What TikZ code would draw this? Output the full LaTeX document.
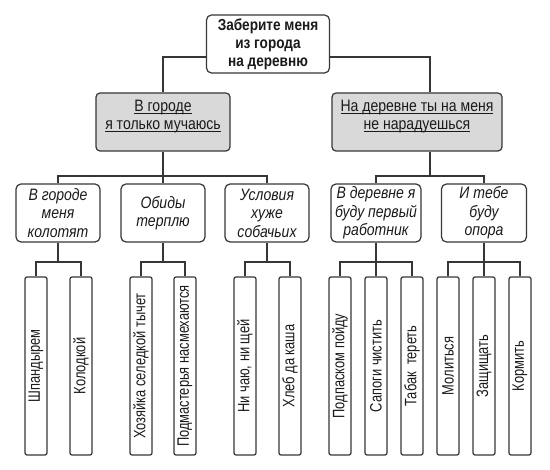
\documentclass[tikz,border=0pt]{standalone}
\usepackage{fontspec}
\setmainfont{Liberation Sans}[FakeStretch=0.85]
\newfontfamily\narrowfont{Liberation Sans}[FakeStretch=0.78]
\usepackage{graphicx}
\usepackage{tikz}
\usetikzlibrary{positioning}
\definecolor{edge}{HTML}{363636}
\definecolor{shade}{HTML}{D9D9D9}
\definecolor{ink}{HTML}{1A1A1A}
\newcommand\uline[1]{\underline{\smash{#1}}}
\tikzset{
  box/.style={draw=edge, line width=1.2pt, rounded corners=5pt, align=center, text=ink,
    inner sep=2pt, minimum height=58pt, font=\fontsize{16.5}{18}\selectfont},
  rootbox/.style={box, minimum width=123pt, font=\bfseries\fontsize{16}{18}\selectfont},
  halfbox/.style={box, fill=shade, rounded corners=4pt},
  idea/.style={box, minimum width=84pt, font=\itshape\fontsize{16.5}{18.5}\selectfont},
  leaf/.style={draw=edge, line width=1.2pt, rounded corners=2pt, text=ink, inner sep=0pt,
    minimum width=22pt, minimum height=178pt, font=\narrowfont\fontsize{16.5}{18}\selectfont},
  link/.style={draw=edge, line width=1.2pt}
}
\begin{document}
\begin{tikzpicture}[x=1pt, y=1pt]
  \useasboundingbox (0,0) rectangle (550,-470);

  \node[rootbox] (root) at (268,-44) {Заберите меня\\из города\\на деревню};

  \node[halfbox, minimum width=134pt] (city) at (163,-122)
    {\uline{В городе}\\\uline{я только мучаюсь}};
  \node[halfbox, minimum width=170pt] (village) at (417,-122)
    {\uline{На деревне ты на меня}\\\uline{не нарадуешься}};

  \node[idea] (beaten)  at (58,-213)  {В городе\\меня\\колотят};
  \node[idea] (insult)  at (163,-213) {Обиды\\терплю};
  \node[idea] (dogs)    at (267,-213) {Условия\\хуже\\собачьих};
  \node[idea, minimum width=90pt] (worker) at (376,-213) {В деревне я\\буду первый\\работник};
  \node[idea, minimum width=85pt] (support) at (484,-213) {И тебе\\буду\\опора};

  \node[leaf] (shpan)    at (36,-366)  {\rotatebox{90}{Шпандырем}};
  \node[leaf] (koloda)   at (81,-366)  {\rotatebox{90}{Колодкой}};
  \node[leaf] (selyodka) at (141,-366) {\rotatebox{90}{Хозяйка селедкой тычет}};
  \node[leaf] (podmast)  at (185,-366) {\rotatebox{90}{Подмастерья насмехаются}};
  \node[leaf] (chai)     at (245,-366) {\rotatebox{90}{Ни чаю, ни щей}};
  \node[leaf] (khleb)    at (290,-366) {\rotatebox{90}{Хлеб да каша}};
  \node[leaf] (podpask)  at (340,-366) {\rotatebox{90}{Подпаском пойду}};
  \node[leaf] (sapogi)   at (376,-366) {\rotatebox{90}{Сапоги чистить}};
  \node[leaf] (tabak)    at (412,-366) {\rotatebox{90}{Табак\ \ тереть}};
  \node[leaf] (molit)    at (448,-366) {\rotatebox{90}{Молиться}};
  \node[leaf] (zashch)   at (484,-366) {\rotatebox{90}{Защищать}};
  \node[leaf] (kormit)   at (520,-366) {\rotatebox{90}{Кормить}};

  \coordinate (j0) at (0,-57);
  \coordinate (jC) at (163,-176);
  \coordinate (jV) at (430,-176);
  \coordinate (l3) at (0,-262);

  \draw[link] (root.west |- j0) -| (city.north);
  \draw[link] (root.east |- j0) -| (village.north -| jV);

  \draw[link] (city) -- (jC);
  \draw[link] (beaten.north) |- (jC) -| (dogs.north);
  \draw[link] (jC) -- (insult.north);

  \draw[link] (village.south -| jV) -- (jV);
  \draw[link] (worker.north) |- (jV) -| (support.north);

  \foreach \up/\first/\last in {beaten/shpan/koloda, insult/selyodka/podmast, dogs/chai/khleb,
      worker/podpask/tabak, support/molit/kormit} {
    \draw[link] (\first.north) |- (\up.south |- l3) -| (\last.north);
    \draw[link] (\up.south) -- (\up.south |- l3);
  }
  \draw[link] (worker.south |- l3) -- (sapogi.north);
  \draw[link] (support.south |- l3) -- (zashch.north);
\end{tikzpicture}
\end{document}
